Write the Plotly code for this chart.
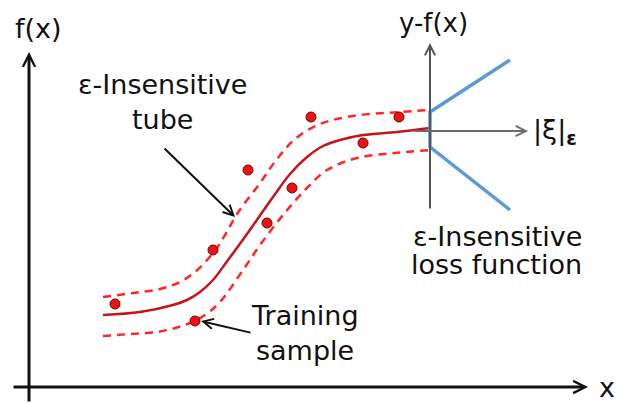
import plotly.graph_objects as go

W, H = 617, 403

# Regression function f(x) and the two edges of the ε-tube (plot units, y grows downward)
center_x = [103, 140, 173, 187, 200, 213, 228, 247, 273, 290, 307, 323, 340, 363, 397, 430]
center_y = [315, 312, 305, 300, 292, 280, 260, 234, 197, 174, 157, 146, 140, 135, 132, 128]

upper_x = [103, 133, 160, 180, 195, 213, 225, 237, 260, 277, 295, 320, 353, 400, 430]
upper_y = [297, 293, 289, 282, 272, 253, 235, 214, 183, 159, 139, 124, 116, 112, 110]

lower_x = [103, 130, 157, 175, 190, 205, 220, 243, 260, 283, 305, 327, 357, 395, 430]
lower_y = [336, 334, 332, 328, 323, 315, 302, 270, 245, 215, 190, 170, 158, 153, 150]

# Training samples
sample_x = [115, 195, 213, 248, 267, 292, 311, 363, 399]
sample_y = [304, 321, 250, 170, 223, 188, 117, 143, 117]

# ε-insensitive loss, drawn against the y-f(x) axis
loss_x = [510, 430, 430, 510]
loss_y = [60, 112, 147, 210]

FONT = "DejaVu Sans"
INK = "#111111"

fig = go.Figure()

fig.add_trace(go.Scatter(x=upper_x, y=upper_y, mode="lines",
                         line=dict(color="#ff2626", width=2.5, dash="8px,6px",
                                   shape="spline", smoothing=1)))
fig.add_trace(go.Scatter(x=lower_x, y=lower_y, mode="lines",
                         line=dict(color="#ff2626", width=2.5, dash="8px,6px",
                                   shape="spline", smoothing=1)))
fig.add_trace(go.Scatter(x=center_x, y=center_y, mode="lines",
                         line=dict(color="#c4141c", width=2.5,
                                   shape="spline", smoothing=1)))
fig.add_trace(go.Scatter(x=loss_x, y=loss_y, mode="lines",
                         line=dict(color="#5b9bd5", width=3.5)))
fig.add_trace(go.Scatter(x=sample_x, y=sample_y, mode="markers",
                         marker=dict(size=10, color="#ee1111",
                                     line=dict(color="#7a0000", width=1))))

annotations = []


def arrow(x0, y0, x1, y1, color, width, head=5, size=0.8):
    annotations.append(dict(x=x1, y=y1, ax=x0, ay=y0, xref="x", yref="y",
                            axref="x", ayref="y", text="", showarrow=True,
                            arrowhead=head, arrowsize=size, arrowwidth=width,
                            arrowcolor=color))


def label(text, x, y, size=27, xanchor="center"):
    annotations.append(dict(x=x, y=y, xref="x", yref="y", text=text,
                            showarrow=False, xanchor=xanchor, yanchor="middle",
                            font=dict(family=FONT, size=size, color=INK)))


# main axes
arrow(29, 403, 29, 52, INK, 3)
arrow(12, 387, 588, 387, INK, 3)
# loss-function axes
arrow(430, 210, 430, 43, "#555555", 2, size=1)
arrow(413, 131, 528, 131, "#6a6a6a", 2, size=1)
# pointers
arrow(163, 147, 235, 217, INK, 2, size=1)
arrow(252, 333, 201, 321, INK, 2, size=1)

label("f(x)", 38, 28)
label("x", 607, 387)
label("y-f(x)", 433, 23, size=26)
label("|ξ|<sub><b>ε</b></sub>", 531, 131, xanchor="left")
label("ε-Insensitive", 162, 84)
label("tube", 162, 119)
label("Training", 305, 315)
label("sample", 305, 350)
label("ε-Insensitive", 497, 236)
label("loss function", 496, 264)

fig.update_layout(
    width=W, height=H,
    margin=dict(l=0, r=0, t=0, b=0),
    paper_bgcolor="white", plot_bgcolor="white",
    showlegend=False,
    xaxis=dict(range=[0, W], visible=False, fixedrange=True),
    yaxis=dict(range=[H, 0], visible=False, fixedrange=True),
    annotations=annotations,
)

fig.write_html("out.html", config={"displayModeBar": False})
